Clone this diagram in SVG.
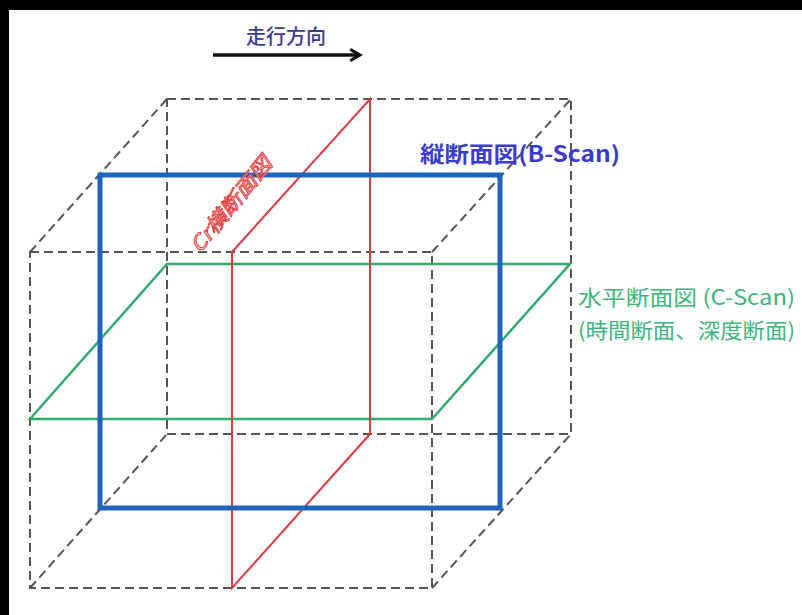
<svg xmlns="http://www.w3.org/2000/svg" width="802" height="615" viewBox="0 0 802 615">
<style>
.cube{fill:none;stroke:#555;stroke-width:2;stroke-dasharray:9,5}
.red{fill:none;stroke:#e0393c;stroke-width:2}
.green{fill:none;stroke:#2fab6a;stroke-width:2.5}
.blue{fill:none;stroke:#1f64b8;stroke-width:5}
.jp{font-family:"Noto Sans CJK JP","Noto Sans",sans-serif}
</style>
<defs>
<marker id="ah" viewBox="0 0 10 10" refX="8" refY="5" markerWidth="4" markerHeight="4" orient="auto">
<path d="M1,1 L8,5 L1,9" fill="none" stroke="#111" stroke-width="2.2"/>
</marker>
</defs>
<rect x="0" y="0" width="802" height="615" fill="#fff"/>
<path d="M0,0 H802 V10 H9 V615 H0 Z" fill="#000"/>
<g id="cube">
<rect class="cube" x="167" y="99" width="404" height="335"/>
<rect class="cube" x="30" y="252" width="402" height="336"/>
<path class="cube" d="M30,252 L167,99 M432,252 L571,99 M30,588 L167,434 M432,588 L571,434"/>
</g>
<g id="c-scan">
<path class="green" d="M167,264 L570,264 L432,419 L30,419 Z"/>
</g>
<g id="cr-plane">
<path class="red" d="M232,252 L370,99 L370,434 L232,588 Z"/>
</g>
<g id="b-scan">
<rect class="blue" x="100" y="175" width="400" height="333"/>
</g>
<g id="direction">
<line x1="213" y1="55" x2="360" y2="55" stroke="#111" stroke-width="3.5" marker-end="url(#ah)"/>
<text class="jp" x="286" y="44" text-anchor="middle" font-size="20" fill="#3a3a8c" font-weight="500">走行方向</text>
</g>
<g id="labels">
<text class="jp" x="420" y="162" font-size="22" font-weight="bold" fill="#3c3ccc" textLength="200" lengthAdjust="spacingAndGlyphs">縦断面図(B-Scan)</text>
<text class="jp" x="578" y="305" font-size="21" fill="#3db57a" textLength="217" lengthAdjust="spacingAndGlyphs">水平断面図 (C-Scan)</text>
<text class="jp" x="578" y="338" font-size="21" fill="#3db57a" textLength="217" lengthAdjust="spacingAndGlyphs">(時間断面、深度断面)</text>
<text class="jp" transform="translate(200,254) rotate(-51)" font-size="20" fill="#fbd6d6" stroke="#e0393c" stroke-width="0.9" font-style="italic" textLength="116" lengthAdjust="spacingAndGlyphs">Cr横断面図</text>
</g>
</svg>
